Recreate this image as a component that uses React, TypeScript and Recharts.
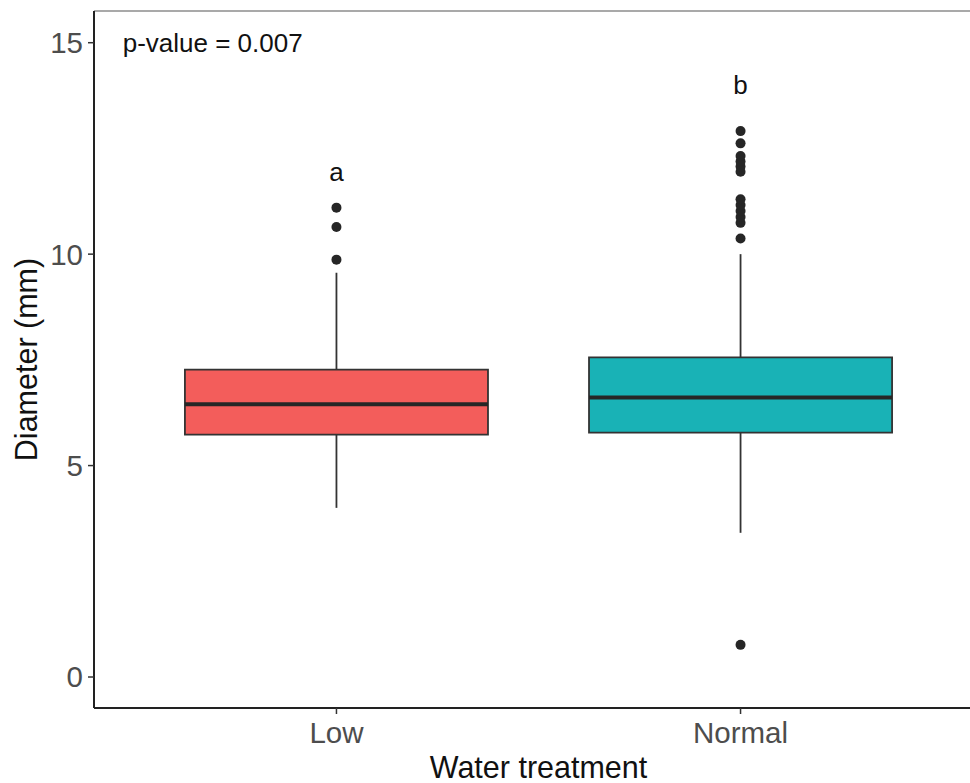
import {
  ComposedChart,
  XAxis,
  YAxis,
  ReferenceArea,
  ReferenceLine,
  Scatter,
} from "recharts";

// Water treatment groups and their box statistics (Diameter, mm)
const groups = ["Low", "Normal"];
const groupFill = ["#f35d5b", "#19b2b6"];
const lowerWhisker = [4.0, 3.41];
const q1 = [5.73, 5.78];
const median = [6.45, 6.61];
const q3 = [7.27, 7.56];
const upperWhisker = [9.56, 10.0];

const lowOutliers = [9.87, 10.64, 11.1];
const normalOutliers = [
  0.76, 10.37, 10.74, 10.88, 11.02, 11.16, 11.3, 11.95, 12.07, 12.19, 12.32,
  12.62, 12.91,
];

const letters = ["a", "b"];
const letterY = [11.95, 14.0];
const pValueText = "p-value = 0.007";

const yTicks = [0, 5, 10, 15];
const Y_MIN = -0.733;
const Y_MAX = 15.75;
const BOX_HALF = 0.375;

const FONT = "'Liberation Sans', Arial, Helvetica, sans-serif";
const INK = "#333333";

const outlierData = [
  ...lowOutliers.map((y) => ({ x: 1, y })),
  ...normalOutliers.map((y) => ({ x: 2, y })),
];
const letterData = letters.map((t, i) => ({ x: i + 1, y: letterY[i], t }));
const pValueData = [{ x: 0.471, y: 15, t: pValueText }];

const OutlierDot = (p: any) => (
  <circle cx={p.cx} cy={p.cy} r={5} fill="#262626" />
);

const LetterText = (p: any) => (
  <text
    x={p.cx}
    y={p.cy}
    textAnchor="middle"
    dominantBaseline="central"
    fontFamily={FONT}
    fontSize={26}
    fill="#111"
  >
    {p.payload.t}
  </text>
);

const PValueText = (p: any) => (
  <text
    x={p.cx}
    y={p.cy}
    textAnchor="start"
    dominantBaseline="central"
    fontFamily={FONT}
    fontSize={26}
    fill="#111"
  >
    {p.payload.t}
  </text>
);

const XTitle = (p: any) => {
  const vb = p.viewBox;
  return (
    <text
      x={vb.x + vb.width / 2}
      y={778}
      textAnchor="middle"
      fontFamily={FONT}
      fontSize={30.5}
      fill="#111"
    >
      Water treatment
    </text>
  );
};

const YTitle = (p: any) => {
  const vb = p.viewBox;
  const cy = vb.y + vb.height / 2;
  return (
    <text
      x={37}
      y={cy}
      transform={`rotate(-90, 37, ${cy})`}
      textAnchor="middle"
      fontFamily={FONT}
      fontSize={30.5}
      fill="#111"
    >
      Diameter (mm)
    </text>
  );
};

export default function App() {
  return (
    <div
      style={{
        position: "absolute",
        left: 0,
        top: 0,
        width: 970,
        height: 783,
        overflow: "hidden",
        background: "#fff",
      }}
    >
      <ComposedChart
        width={990}
        height={783}
        margin={{ top: 11, right: 7, bottom: 0, left: 0 }}
      >
        <XAxis
          type="number"
          dataKey="x"
          domain={[0.4, 2.6]}
          ticks={[1, 2]}
          tickFormatter={(v: number) => groups[v - 1]}
          allowDataOverflow
          height={75}
          axisLine={{ stroke: "#222", strokeWidth: 2 }}
          tickLine={{ stroke: INK, strokeWidth: 1.5 }}
          tickSize={6}
          tickMargin={8}
          tick={{ fontFamily: FONT, fontSize: 29.5, fill: "#4d4d4d" }}
          label={<XTitle />}
        />
        <YAxis
          type="number"
          dataKey="y"
          domain={[Y_MIN, Y_MAX]}
          ticks={yTicks}
          allowDataOverflow
          width={94}
          axisLine={{ stroke: "#222", strokeWidth: 2 }}
          tickLine={{ stroke: INK, strokeWidth: 1.5 }}
          tickSize={6}
          tickMargin={5}
          tick={{ fontFamily: FONT, fontSize: 29.5, fill: "#4d4d4d" }}
          label={<YTitle />}
        />

        <ReferenceLine y={Y_MAX} stroke="#8c8c8c" strokeWidth={1.5} />

        {groups.map((g, i) => (
          <ReferenceLine
            key={`wl-${g}`}
            segment={[
              { x: i + 1, y: lowerWhisker[i] },
              { x: i + 1, y: q1[i] },
            ]}
            stroke={INK}
            strokeWidth={1.8}
          />
        ))}
        {groups.map((g, i) => (
          <ReferenceLine
            key={`wu-${g}`}
            segment={[
              { x: i + 1, y: q3[i] },
              { x: i + 1, y: upperWhisker[i] },
            ]}
            stroke={INK}
            strokeWidth={1.8}
          />
        ))}
        {groups.map((g, i) => (
          <ReferenceArea
            key={`box-${g}`}
            x1={i + 1 - BOX_HALF}
            x2={i + 1 + BOX_HALF}
            y1={q1[i]}
            y2={q3[i]}
            fill={groupFill[i]}
            fillOpacity={1}
            stroke={INK}
            strokeWidth={1.8}
          />
        ))}
        {groups.map((g, i) => (
          <ReferenceLine
            key={`med-${g}`}
            segment={[
              { x: i + 1 - BOX_HALF, y: median[i] },
              { x: i + 1 + BOX_HALF, y: median[i] },
            ]}
            stroke="#262626"
            strokeWidth={4}
          />
        ))}

        <Scatter
          data={outlierData}
          shape={OutlierDot}
          isAnimationActive={false}
        />
        <Scatter
          data={letterData}
          shape={LetterText}
          isAnimationActive={false}
        />
        <Scatter
          data={pValueData}
          shape={PValueText}
          isAnimationActive={false}
        />
      </ComposedChart>
    </div>
  );
}
